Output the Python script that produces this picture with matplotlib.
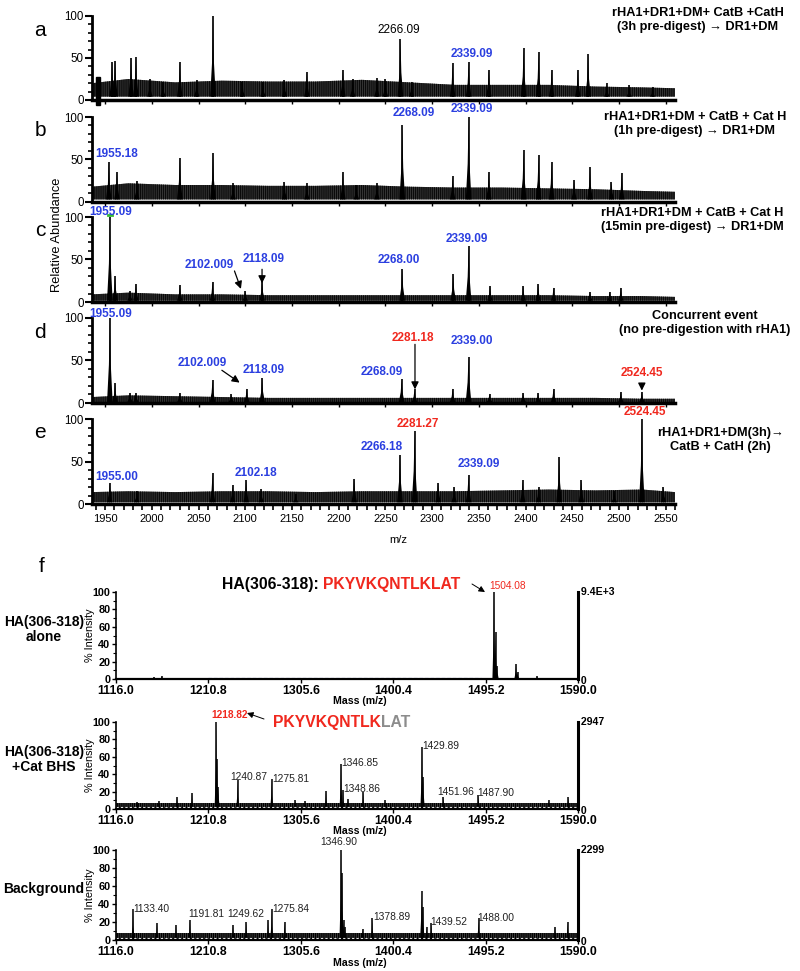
import matplotlib.pyplot as plt
from matplotlib.patches import Rectangle
from matplotlib.transforms import ScaledTranslation

plt.rcParams['font.family'] = ['Liberation Sans', 'DejaVu Sans']
plt.rcParams['hatch.linewidth'] = 0.9

BLUE = '#2b3fe0'
RED = '#f0281e'
GRAY = '#8c8c8c'

# ---------- panels a-e : MALDI spectra, m/z 1936-2560 ----------
mz_range = (1936, 2560)
top_ticks = [1950, 2000, 2050, 2100, 2150, 2200, 2250, 2300, 2350, 2400, 2450, 2500, 2550]

# noise envelope (upper edge) read every ~50 m/z
noise_mz = [1936, 1975, 2025, 2075, 2125, 2175, 2225, 2275, 2325, 2375, 2425, 2475, 2525, 2560]

a_mz = [1957.5, 1960.7, 1977.8, 1983.0, 1998, 2012, 2030, 2048, 2065.5, 2097, 2119, 2142,
        2166, 2204.5, 2215, 2241, 2250, 2266.1, 2278, 2322, 2339.1, 2360.7, 2398, 2414,
        2428, 2456, 2467, 2487, 2511, 2536]
a_int = [45, 47, 50, 51, 25, 22, 45, 24, 100, 22, 22, 24,
         33, 36, 25, 26, 25, 73, 22, 44, 45, 36, 62, 57,
         36, 36, 55, 20, 18, 16]
a_noise = [20, 25, 21, 23, 22, 22, 24, 21, 18, 18, 18, 16, 15, 14]
a_floor = 4

b_mz = [1954, 1962.7, 1984, 2030, 2065.5, 2087, 2142, 2166, 2204.5, 2219, 2241, 2268.1,
        2322, 2339.1, 2360.7, 2398, 2414, 2428, 2452, 2469, 2492, 2503]
b_int = [47, 35, 25, 52, 58, 22, 24, 22, 35, 20, 22, 90,
         30, 100, 35, 61, 55, 47, 26, 41, 24, 34]
b_noise = [18, 22, 20, 20, 19, 19, 20, 18, 17, 17, 16, 15, 13, 12]
b_floor = 3

c_mz = [1955.1, 1960.7, 1976.7, 1983, 2030, 2065, 2100, 2118.1, 2268, 2322.6, 2339.1,
        2362, 2397.5, 2413.5, 2430, 2469, 2490, 2502]
c_int = [100, 31, 13, 21, 20, 24, 13, 25, 39, 33, 66, 19, 19, 21, 17, 12, 12, 17]
c_noise = [9, 11, 9, 9, 8, 8, 8, 8, 8, 8, 8, 7, 7, 6]
c_floor = 1.5

d_mz = [1955.1, 1960.7, 1976.7, 1983, 2030, 2065, 2085, 2101.6, 2118.1, 2267.4, 2281.2,
        2322, 2339, 2361.5, 2397.5, 2413.5, 2430, 2502, 2524.5]
d_int = [100, 23, 12, 12, 12, 27, 10, 17, 29, 28, 16, 17, 54, 11, 12, 12, 17, 13, 13]
d_noise = [7, 9, 8, 7, 6, 6, 6, 6, 6, 6, 6, 6, 5, 5]
d_floor = 1

e_mz = [1955, 1984, 2065, 2086.6, 2101, 2117, 2154, 2216.6, 2265.6, 2281.3, 2306.5,
        2323.6, 2339, 2397, 2414, 2436, 2459.7, 2495, 2524.5, 2547.6]
e_int = [25, 15, 36, 22, 28, 18, 12, 30, 58, 86, 25, 20, 34, 28, 20, 55, 28, 15, 100, 20]
e_noise = [14, 15, 14, 15, 15, 14, 15, 15, 15, 16, 17, 16, 17, 14]
e_floor = 2

# peak labels: (m/z, height, text, colour)
a_labels = [(2264.4, 83, '2266.09', 'k'), (2342.5, 55, '2339.09', BLUE)]
b_labels = [(1962, 56, '1955.18', BLUE), (2280, 105, '2268.09', BLUE), (2342.5, 110, '2339.09', BLUE)]
c_labels = [(1956, 106, '1955.09', BLUE), (2061.4, 43, '2102.009', BLUE), (2120, 51, '2118.09', BLUE),
            (2264.5, 49, '2268.00', BLUE), (2337, 74, '2339.09', BLUE)]
d_labels = [(1956, 105, '1955.09', BLUE), (2054.5, 47, '2102.009', BLUE), (2120, 38.5, '2118.09', BLUE),
            (2245.7, 36.5, '2268.09', BLUE), (2279.6, 77, '2281.18', RED), (2343, 73, '2339.00', BLUE),
            (2524.5, 35, '2524.45', RED)]
e_labels = [(1962, 32, '1955.00', BLUE), (2111, 36, '2102.18', BLUE), (2246, 67, '2266.18', BLUE),
            (2285, 94, '2281.27', RED), (2350, 47, '2339.09', BLUE), (2528, 108, '2524.45', RED)]

# arrows: (from m/z, from y, to m/z, to y)
c_arrows = [(2088.5, 36.5, 2095.4, 15.4), (2118, 38.5, 2118, 22)]
d_arrows = [(2075, 38.5, 2094, 24), (2281.7, 69, 2281.7, 16), (2524.5, 23, 2524.5, 14.6)]

top_titles = ['rHA1+DR1+DM+ CatB +CatH\n(3h pre-digest) \u2192 DR1+DM',
              'rHA1+DR1+DM + CatB + Cat H\n(1h pre-digest) \u2192 DR1+DM',
              'rHA1+DR1+DM + CatB + Cat H\n(15min pre-digest) \u2192 DR1+DM',
              'Concurrent event\n(no pre-digestion with rHA1)',
              'rHA1+DR1+DM(3h)\u2192\nCatB + CatH (2h)']
panel_letters = ['a', 'b', 'c', 'd', 'e']

# ---------- panel f : HA(306-318) digestion, m/z 1116-1590 ----------
f_ticks = [1116.0, 1210.8, 1305.6, 1400.4, 1495.2, 1590.0]
f_tick_labels = ['1116.0', '1210.8', '1305.6', '1400.4', '1495.2', '1590.0']
f_yticks = [0, 20, 40, 60, 80, 100]

f1_mz = [1155, 1163, 1503.8, 1505.4, 1507, 1526.4, 1528, 1548]
f1_int = [2, 3, 100, 54, 15, 17, 8, 3]
f1_noise = 1.5

f2_mz = [1138, 1160, 1178.6, 1194, 1218.8, 1219.8, 1221, 1240.9, 1275.8, 1300, 1310, 1331.5,
         1346.9, 1348.9, 1354, 1369.6, 1392, 1429.9, 1431.2, 1452, 1487.9, 1560, 1580]
f2_int = [8, 9, 14, 18, 100, 58, 25, 33, 34, 10, 9, 21,
          52, 22, 12, 19, 10, 71, 37, 14, 16, 10, 14]
f2_noise = 7

f3_mz = [1133.4, 1158, 1177.5, 1191.8, 1236, 1249.6, 1272, 1275.8, 1289, 1346.9, 1348, 1349.5,
         1351, 1369, 1378.9, 1429.6, 1431, 1434.7, 1439.5, 1488, 1566.4, 1579.4]
f3_int = [34, 19, 17, 22, 17, 20, 22, 34, 20, 100, 75, 22,
          15, 12, 24, 54, 37, 15, 19, 24, 15, 20]
f3_noise = 8

f2_labels = [(1233, 37, '1240.87'), (1276, 35, '1275.81'), (1347, 53, '1346.85'), (1349, 23, '1348.86'),
             (1430, 72, '1429.89'), (1446, 20, '1451.96'), (1487, 18, '1487.90')]
f3_labels = [(1133.5, 35, '1133.40'), (1190, 29, '1191.81'), (1230, 29, '1249.62'), (1276, 34, '1275.84'),
             (1380, 26, '1378.89'), (1438, 20, '1439.52'), (1487, 25, '1488.00')]
f_max_counts = ['9.4E+3', '2947', '2299']
f_side_names = ['HA(306-318)\nalone', 'HA(306-318)\n+Cat BHS', 'Background']


W, H = 800, 971
fig = plt.figure(figsize=(W / 100, H / 100), dpi=100)


def fx(px):
    return px / W


def fy(py):
    return 1 - py / H


def box(left, right, top, bottom):
    return [fx(left), fy(bottom), (right - left) / W, (bottom - top) / H]


def draw_peaks(ax, mz, inten, floor, half_w, lw):
    for m, h in zip(mz, inten):
        ax.fill([m - half_w, m - half_w / 3, m, m + half_w / 3, m + half_w],
                [floor, h * 0.45, h, h * 0.45, floor], color='k', lw=0, clip_on=False)
    ax.vlines(mz, floor, inten, color='k', lw=lw, clip_on=False)


# ---- a-e ----
top_boxes = [(16, 100), (117, 202), (217, 302), (318, 403), (419, 504)]
title_pos = [(698, 20), (695, 124), (692, 220), (705, 323), (720, 440)]
spectra = [(a_mz, a_int, a_noise, a_floor, a_labels, []),
           (b_mz, b_int, b_noise, b_floor, b_labels, []),
           (c_mz, c_int, c_noise, c_floor, c_labels, c_arrows),
           (d_mz, d_int, d_noise, d_floor, d_labels, d_arrows),
           (e_mz, e_int, e_noise, e_floor, e_labels, [])]

for i, (mz, inten, noise, floor, labels, arrows) in enumerate(spectra):
    top, bottom = top_boxes[i]
    ax = fig.add_axes(box(92, 675, top, bottom))
    ax.set_xlim(*mz_range)
    ax.set_ylim(0, 100)
    ax.fill_between(noise_mz, floor, noise, facecolor='#3c3c3c', edgecolor='#0a0a0a',
                    hatch='||||||||', lw=0)
    draw_peaks(ax, mz, inten, floor, 3.0, 1.2)

    for s in ['top', 'right']:
        ax.spines[s].set_visible(False)
    ax.spines['left'].set_linewidth(2)
    ax.spines['bottom'].set_linewidth(2.5)
    ax.set_yticks([0, 50, 100])
    ax.set_yticks(range(0, 101, 10), minor=True)
    ax.tick_params(axis='y', which='major', length=5, width=1.5, pad=1, labelsize=8.3)
    ax.tick_params(axis='y', which='minor', length=3, width=1.2)
    ax.set_xticks(top_ticks)
    if i == 4:
        ax.set_xticks(range(1940, 2561, 10), minor=True)
        ax.tick_params(axis='x', which='both', length=4, width=1.2, pad=3, labelsize=8)
    else:
        ax.tick_params(axis='x', which='major', length=3, width=1, labelbottom=False)

    for x, y, s, col in labels:
        ax.text(x, y, s, color=col, fontsize=8.5, ha='center', va='center',
                fontweight='normal' if col == 'k' else 'bold')
    for x1, y1, x2, y2 in arrows:
        ax.annotate('', xy=(x2, y2), xytext=(x1, y1),
                    arrowprops=dict(arrowstyle='-|>', color='k', lw=0.9, mutation_scale=11,
                                    shrinkA=0, shrinkB=0))
    if i == 0:
        ax.add_patch(Rectangle((1940.5, -6), 4.5, 33, color='k', clip_on=False))
    if i == 2:
        ax.plot([1953, 1957], [102, 102], color='#33bb33', lw=2, clip_on=False)

    tx, ty = title_pos[i]
    fig.text(fx(tx), fy(ty), top_titles[i], ha='center', va='center', fontsize=9.2,
             fontweight='bold', linespacing=1.15)
    fig.text(fx(40), fy(top + 14), panel_letters[i], ha='center', va='center', fontsize=15)

fig.text(fx(57), fy(235), 'Relative Abundance', rotation=90, ha='center', va='center', fontsize=9.3)
fig.text(fx(398), fy(540), 'm/z', ha='center', va='center', fontsize=8)

# ---- f ----
fig.text(fx(42), fy(566), 'f', ha='center', va='center', fontsize=15)
f_boxes = [(592, 679), (722, 809), (850, 940)]
f_data = [(f1_mz, f1_int, f1_noise, []), (f2_mz, f2_int, f2_noise, f2_labels),
          (f3_mz, f3_int, f3_noise, f3_labels)]
offset = ScaledTranslation(9 / 100, 0, fig.dpi_scale_trans)

f_axes = []
for i, (mz, inten, noise, labels) in enumerate(f_data):
    top, bottom = f_boxes[i]
    ax = fig.add_axes(box(116, 578, top, bottom))
    f_axes.append(ax)
    ax.set_xlim(f_ticks[0], f_ticks[-1])
    ax.set_ylim(0, 100)
    ax.fill_between([f_ticks[0], f_ticks[-1]], 0.5, noise, facecolor='#444444',
                    edgecolor='#000000', hatch='||||||||', lw=0)
    draw_peaks(ax, mz, inten, 0.5, 1.6, 1.1)
    if i > 0:
        ax.plot([f_ticks[0], f_ticks[-1]], [2.5, 2.5], color='white', lw=0.8, ls=(0, (2, 2)))

    ax.spines['top'].set_visible(False)
    ax.spines['left'].set_linewidth(1.2)
    ax.spines['bottom'].set_linewidth(1.6)
    ax.spines['right'].set_linewidth(2.2)
    ax.set_xticks(f_ticks)
    ax.set_xticklabels(f_tick_labels, fontweight='bold', fontsize=8.8)
    for lab in ax.get_xticklabels():
        lab.set_transform(lab.get_transform() + offset)
    ax.set_yticks(f_yticks)
    ax.set_yticklabels([str(v) for v in f_yticks], fontweight='bold', fontsize=7.8)
    ax.set_yticks(range(0, 101, 10), minor=True)
    ax.tick_params(axis='x', length=3, width=1, pad=1)
    ax.tick_params(axis='y', which='major', length=3, width=1, pad=1)
    ax.tick_params(axis='y', which='minor', length=2, width=0.8)
    ax.set_xlabel('Mass (m/z)', fontweight='bold', fontsize=7.6)
    ax.xaxis.set_label_coords((360 - 116) / (578 - 116), -0.2)
    ax.set_ylabel('% Intensity', fontsize=7.8)
    ax.yaxis.set_label_coords((95 - 116) / (578 - 116), 0.5)

    ax.text(1.0, 1.0, ' ' + f_max_counts[i], transform=ax.transAxes, ha='left', va='center',
            fontweight='bold', fontsize=7.6)
    ax.text(1.0, -0.02, ' 0', transform=ax.transAxes, ha='left', va='center',
            fontweight='bold', fontsize=7.6)
    for x, y, s in labels:
        ax.text(x, y, s, fontsize=7.4, color='#222222', ha='left', va='center')
    fig.text(fx(44), fy((top + bottom) / 2 - 6), f_side_names[i], ha='center', va='center',
             fontsize=10, fontweight='bold', linespacing=1.1)

ax1, ax2, ax3 = f_axes

# f1 extras
ax1.plot([1210, 1490], [1.0, 1.0], color='#3344cc', lw=0.8, ls=(0, (3, 2)))
t = fig.text(fx(222), fy(585), 'HA(306-318): ', ha='left', va='center', fontsize=11.3, fontweight='bold')
ax1.annotate('PKYVKQNTLKLAT', xy=(1, 0), xycoords=t, ha='left', va='bottom', color=RED,
             fontsize=11.3, fontweight='bold', annotation_clip=False)
ax1.annotate('', xy=(fx(485), fy(592)), xytext=(fx(472), fy(584)), xycoords='figure fraction',
             arrowprops=dict(arrowstyle='-|>', color='k', lw=0.7, mutation_scale=9, shrinkA=0, shrinkB=0))
fig.text(fx(508), fy(586), '1504.08', color=RED, fontsize=7.3, ha='center', va='center')

# f2 extras
fig.text(fx(230), fy(715), '1218.82', color=RED, fontsize=7.3, fontweight='bold', ha='center', va='center')
ax2.annotate('', xy=(fx(247), fy(713)), xytext=(fx(264), fy(719)), xycoords='figure fraction',
             arrowprops=dict(arrowstyle='-|>', color='k', lw=0.7, mutation_scale=9, shrinkA=0, shrinkB=0))
t2 = fig.text(fx(273), fy(722), 'PKYVKQNTLK', color=RED, ha='left', va='center', fontsize=11.3,
              fontweight='bold')
ax2.annotate('LAT', xy=(1, 0), xycoords=t2, ha='left', va='bottom', color=GRAY,
             fontsize=11.3, fontweight='bold', annotation_clip=False)

# f3 extras
ax3.text(1345, 109, '1346.90', fontsize=7.4, color='#222222', ha='center', va='center')

fig.savefig('out.png', dpi=100)
